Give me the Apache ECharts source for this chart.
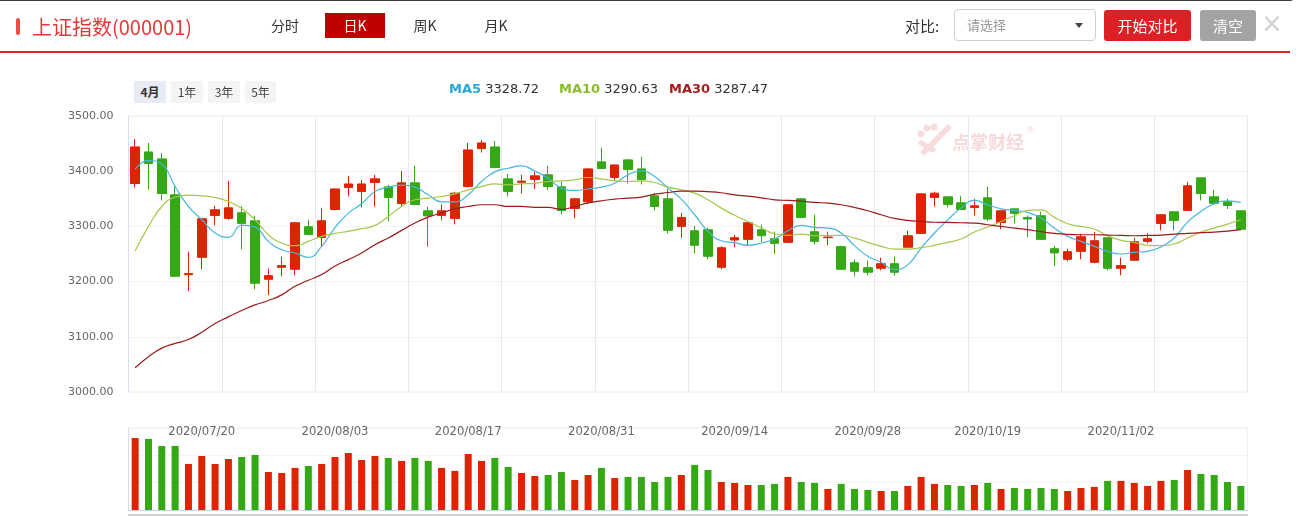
<!DOCTYPE html>
<html><head><meta charset="utf-8">
<script src="https://cdn.jsdelivr.net/npm/echarts@6/dist/echarts.min.js"></script>
<style>
html,body{margin:0;padding:0;background:#fff;width:1299px;height:516px;overflow:hidden;font-family:"Noto Sans CJK SC","DejaVu Sans",sans-serif;}
#chart{position:absolute;left:0;top:0;width:1299px;height:516px;}
.hd{position:absolute;white-space:nowrap;box-sizing:border-box;}
.tab{font-size:14px;color:#333;text-align:center;line-height:25px;top:13px;height:25px;}
.rb{top:81px;height:22px;line-height:22px;font-size:12px;color:#444;text-align:center;background:#f4f4f4;}
.lg{top:80px;font-family:"DejaVu Sans",sans-serif;font-size:13px;line-height:18px;color:#333;}
</style></head><body>
<div id="chart"></div>
<div class="hd" style="left:-2px;top:-6px;width:1298px;height:7px;border:1px solid #3a3a3a;border-radius:0 0 6px 0;"></div>
<div class="hd" style="left:16px;top:18px;width:4px;height:17px;background:#f04a4a;border-radius:2px;"></div>
<div class="hd" style="left:32px;top:13px;font-size:20px;line-height:28px;color:#e4393c;">上证指数(000001)</div>
<div class="hd tab" style="left:265px;width:40px;">分时</div>
<div class="hd tab" style="left:325px;width:60px;background:#c00000;color:#fff;">日K</div>
<div class="hd tab" style="left:405px;width:40px;">周K</div>
<div class="hd tab" style="left:476px;width:40px;">月K</div>
<div class="hd" style="left:0;top:51px;width:1290px;height:2px;background:#e0252b;"></div>
<div class="hd" style="left:905px;top:14px;font-size:15px;line-height:24px;color:#333;">对比:</div>
<div class="hd" style="left:954px;top:9px;width:142px;height:32px;border:1px solid #cfcfcf;border-radius:4px;"></div>
<div class="hd" style="left:967px;top:15px;font-size:13px;line-height:20px;color:#999;">请选择</div>
<div class="hd" style="left:1075px;top:23px;width:0;height:0;border-left:4px solid transparent;border-right:4px solid transparent;border-top:5px solid #444;"></div>
<div class="hd" style="left:1104px;top:10px;width:87px;height:31px;background:#dd1f26;border-radius:3px;color:#fff;font-size:15px;line-height:31px;text-align:center;">开始对比</div>
<div class="hd" style="left:1200px;top:10px;width:56px;height:31px;background:#a3a3a3;border-radius:3px;color:#fff;font-size:15px;line-height:31px;text-align:center;">清空</div>
<div class="hd" style="left:1261px;top:8px;font-size:26px;line-height:30px;color:#d0d0d0;font-family:'DejaVu Sans',sans-serif;">×</div>
<div class="hd rb" style="left:134px;width:32px;background:#e6ebf5;font-weight:bold;color:#333;">4月</div>
<div class="hd rb" style="left:171px;width:32px;">1年</div>
<div class="hd rb" style="left:208px;width:32px;">3年</div>
<div class="hd rb" style="left:245px;width:31px;">5年</div>
<div class="hd lg" style="left:449px;"><b style="color:#29a9d8;">MA5</b> 3328.72</div>
<div class="hd lg" style="left:559px;"><b style="color:#8cbb2c;">MA10</b> 3290.63</div>
<div class="hd lg" style="left:669px;"><b style="color:#a51c1c;">MA30</b> 3287.47</div>
<script>
const dates = [
'2020/07/13','2020/07/14','2020/07/15','2020/07/16','2020/07/17','2020/07/20','2020/07/21','2020/07/22','2020/07/23','2020/07/24',
'2020/07/27','2020/07/28','2020/07/29','2020/07/30','2020/07/31','2020/08/03','2020/08/04','2020/08/05','2020/08/06','2020/08/07',
'2020/08/10','2020/08/11','2020/08/12','2020/08/13','2020/08/14','2020/08/17','2020/08/18','2020/08/19','2020/08/20','2020/08/21',
'2020/08/24','2020/08/25','2020/08/26','2020/08/27','2020/08/28','2020/08/31','2020/09/01','2020/09/02','2020/09/03','2020/09/04',
'2020/09/07','2020/09/08','2020/09/09','2020/09/10','2020/09/11','2020/09/14','2020/09/15','2020/09/16','2020/09/17','2020/09/18',
'2020/09/21','2020/09/22','2020/09/23','2020/09/24','2020/09/25','2020/09/28','2020/09/29','2020/09/30','2020/10/09','2020/10/12',
'2020/10/13','2020/10/14','2020/10/15','2020/10/16','2020/10/19','2020/10/20','2020/10/21','2020/10/22','2020/10/23','2020/10/26',
'2020/10/27','2020/10/28','2020/10/29','2020/10/30','2020/11/02','2020/11/03','2020/11/04','2020/11/05','2020/11/06','2020/11/09',
'2020/11/10','2020/11/11','2020/11/12','2020/11/13'];
const tickLabels = ['2020/07/20','2020/08/03','2020/08/17','2020/08/31','2020/09/14','2020/09/28','2020/10/19','2020/11/02'];
const opens = [
3377.7,3434.9,3422.3,3357.2,3212.5,3244.0,3319.9,3314.5,3324.7,3310.2,
3204.2,3225.9,3222.3,3299.4,3280.1,3330.7,3370.3,3363.3,3379.5,3371.7,
3341.6,3378.9,3328.3,3319.9,3314.5,3372.3,3441.0,3444.0,3386.1,3380.0,
3384.8,3393.4,3371.7,3332.5,3344.6,3416.9,3388.6,3420.5,3404.2,3355.4,
3350.0,3300.0,3292.2,3294.0,3225.9,3275.3,3276.5,3294.0,3277.7,3271.1,
3350.0,3290.4,3279.5,3263.3,3234.2,3225.3,3224.1,3232.5,3262.3,3287.3,
3352.4,3353.6,3342.8,3334.3,3351.8,3307.2,3331.9,3316.3,3319.3,3259.6,
3240.4,3254.8,3234.9,3279.5,3224.1,3238.6,3272.9,3305.4,3326.5,3328.9,
3388.0,3353.6,3344.6,3328.3];
const closes = [
3444.0,3413.9,3359.6,3209.6,3214.5,3313.9,3330.1,3333.7,3305.4,3197.0,
3210.8,3229.0,3306.6,3285.5,3310.2,3367.9,3376.9,3376.9,3386.1,3352.4,
3378.9,3339.8,3318.9,3328.3,3360.2,3438.6,3451.2,3406.6,3363.3,3382.0,
3391.6,3372.3,3328.9,3350.0,3404.2,3404.8,3411.4,3403.0,3384.8,3336.1,
3292.8,3316.3,3265.7,3245.8,3261.4,3279.5,3306.6,3283.1,3269.3,3339.2,
3316.3,3272.9,3280.7,3222.3,3218.7,3216.9,3232.5,3216.9,3283.1,3359.0,
3360.2,3339.8,3330.7,3337.3,3313.3,3328.3,3323.5,3313.3,3276.5,3252.0,
3254.2,3281.3,3274.1,3224.1,3229.0,3272.3,3277.7,3321.1,3310.8,3373.5,
3359.6,3341.6,3337.9,3294.8];
const lows = [
3370.5,3366.9,3347.0,3209.6,3182.5,3222.3,3301.8,3312.0,3258.4,3186.1,
3175.3,3209.6,3211.4,3283.6,3263.0,3329.0,3354.2,3334.3,3336.1,3309.0,
3336.1,3338.0,3263.0,3310.8,3303.6,3370.5,3433.7,3406.0,3354.2,3359.6,
3368.0,3365.9,3321.5,3314.5,3340.4,3404.0,3382.5,3377.7,3375.9,3328.9,
3287.3,3279.0,3251.2,3240.4,3222.3,3262.3,3265.7,3271.5,3250.2,3269.3,
3314.5,3267.5,3265.7,3222.0,3209.6,3211.4,3220.5,3210.8,3262.0,3287.0,
3336.1,3334.3,3330.0,3319.9,3309.9,3294.6,3305.4,3280.7,3276.0,3228.2,
3236.8,3240.4,3233.1,3220.5,3211.4,3238.6,3269.3,3292.8,3292.8,3328.9,
3347.0,3339.8,3331.6,3293.6];
const highs = [
3458.4,3451.2,3433.1,3372.9,3254.2,3314.5,3337.3,3382.5,3336.7,3319.3,
3223.5,3245.2,3307.5,3312.0,3333.7,3368.5,3391.6,3384.3,3393.4,3375.3,
3400.6,3409.6,3335.5,3339.8,3362.7,3451.2,3456.6,3454.8,3395.2,3393.4,
3398.8,3409.6,3380.7,3351.8,3406.0,3442.2,3412.0,3422.3,3425.9,3360.2,
3368.0,3324.5,3301.2,3297.6,3264.1,3284.8,3308.4,3303.0,3290.4,3340.0,
3351.8,3321.1,3290.4,3265.1,3239.8,3238.0,3243.4,3245.8,3292.2,3359.5,
3362.7,3354.0,3355.4,3350.0,3371.7,3328.5,3332.0,3319.9,3326.5,3265.1,
3259.6,3286.7,3290.4,3280.0,3243.4,3279.5,3287.3,3321.5,3326.8,3380.7,
3388.3,3366.3,3350.0,3328.5];
const ma5 = [
3403.6,3419.3,3412.7,3372.3,3336.1,3312.0,3288.0,3280.0,3302.4,3298.8,
3272.9,3257.8,3251.8,3244.0,3263.9,3298.0,3324.1,3341.0,3363.3,3371.1,
3374.7,3371.1,3357.2,3344.6,3344.6,3357.2,3381.3,3398.8,3405.4,3409.6,
3400.3,3387.3,3369.3,3365.1,3368.0,3371.1,3378.3,3393.4,3400.6,3390.4,
3369.3,3349.4,3321.1,3291.0,3274.1,3270.5,3265.7,3269.9,3277.1,3292.2,
3301.8,3298.2,3297.0,3288.0,3265.1,3245.8,3234.9,3221.7,3230.7,3260.8,
3288.0,3312.0,3333.1,3347.0,3339.2,3331.9,3328.9,3325.3,3315.1,3297.0,
3281.9,3272.9,3263.9,3254.8,3250.0,3253.0,3254.8,3262.7,3278.9,3307.8,
3327.1,3341.0,3346.4,3343.4];
const ma10 = [
3256.0,3300.0,3336.1,3353.0,3356.6,3355.4,3352.4,3345.2,3332.5,3312.0,
3284.9,3269.9,3265.0,3272.9,3281.9,3287.5,3291.0,3295.8,3301.8,3318.1,
3336.1,3348.2,3351.2,3354.2,3359.0,3366.3,3372.3,3377.1,3375.3,3377.1,
3378.0,3381.3,3382.5,3384.3,3388.6,3386.1,3382.5,3381.3,3382.5,3379.5,
3371.1,3366.3,3360.2,3348.2,3333.1,3320.2,3309.0,3297.0,3286.7,3283.7,
3286.1,3283.1,3283.7,3283.7,3278.9,3271.1,3263.9,3259.0,3259.0,3261.4,
3265.7,3271.1,3277.1,3289.8,3298.8,3309.0,3319.3,3328.9,3330.1,3316.3,
3304.8,3300.0,3295.2,3283.1,3274.7,3271.1,3265.7,3265.1,3268.1,3278.9,
3289.8,3297.0,3304.2,3312.0];
const ma30 = [
3044.0,3063.9,3079.5,3088.0,3095.0,3108.4,3124.1,3136.1,3147.6,3157.8,
3165.7,3175.9,3191.6,3202.4,3212.7,3228.3,3239.8,3251.8,3266.9,3279.0,
3292.8,3306.0,3316.9,3324.1,3332.0,3336.1,3339.2,3339.2,3336.1,3336.1,
3334.6,3334.3,3331.0,3336.0,3342.5,3346.4,3349.4,3351.2,3353.0,3358.4,
3361.4,3364.0,3364.0,3363.0,3361.0,3357.2,3354.8,3351.8,3348.2,3347.0,
3345.8,3343.4,3342.2,3339.2,3334.3,3328.3,3321.1,3314.5,3310.8,3309.0,
3307.5,3307.2,3306.6,3306.0,3303.0,3300.0,3297.0,3294.0,3290.4,3287.3,
3285.5,3284.9,3284.9,3284.3,3283.7,3283.1,3283.7,3284.3,3286.1,3287.3,
3288.6,3289.8,3291.6,3294.0];
const volumes = [
527,520,469,469,337,395,337,373,388,403,
278,271,308,322,337,388,417,366,395,381,
359,381,359,308,286,410,359,381,315,271,
249,256,278,220,256,308,234,242,242,205,
242,256,330,293,205,198,183,183,191,242,
205,198,154,191,154,147,139,139,176,242,
191,183,176,183,198,154,161,154,161,154,
139,161,169,213,213,198,176,213,220,293,
264,256,205,176];

const UP = '#dd2400', DOWN = '#34a915';
const kData = dates.map((d, i) => [opens[i], closes[i], lows[i], highs[i]]);
const chart = echarts.init(document.getElementById('chart'), null, {renderer: 'canvas'});
const lineCommon = {type: 'line', smooth: true, symbol: 'none', xAxisIndex: 0, yAxisIndex: 0};
chart.setOption({
  animation: false,
  textStyle: {fontFamily: 'DejaVu Sans, Noto Sans CJK SC, sans-serif'},
  grid: [
    {left: 128.5, top: 116, width: 1119, height: 276, show: true, borderColor: '#eef1f5', borderWidth: 1},
    {left: 128.5, top: 428, width: 1119, height: 82, show: true, borderColor: '#eef1f5', borderWidth: 1}
  ],
  xAxis: [
    {type: 'category', gridIndex: 0, data: dates, boundaryGap: true,
     axisLine: {show: false}, axisTick: {show: false},
     axisLabel: {interval: (i, v) => tickLabels.indexOf(v) >= 0, margin: 34, color: '#666', fontSize: 11.6, verticalAlign: 'top'},
     splitLine: {show: true, interval: (i) => i % 7 === 0, lineStyle: {color: '#e5eaf1', width: 1}}},
    {type: 'category', gridIndex: 1, data: dates, boundaryGap: true,
     axisLine: {show: true, lineStyle: {color: '#c8d4e9'}}, axisTick: {show: false},
     axisLabel: {show: false}, splitLine: {show: false}}
  ],
  yAxis: [
    {type: 'value', gridIndex: 0, min: 3000, max: 3500, interval: 100, scale: true,
     axisLine: {show: true, lineStyle: {color: '#d6dfeb'}}, axisTick: {show: false},
     axisLabel: {formatter: v => v.toFixed(2), color: '#666', fontSize: 11, margin: 15},
     splitLine: {show: true, lineStyle: {color: '#f2f3f5'}}},
    {type: 'value', gridIndex: 1, min: 0, max: 600, interval: 200,
     axisLine: {show: true, lineStyle: {color: '#d6dfeb'}}, axisTick: {show: false},
     axisLabel: {show: false}, splitLine: {show: true, lineStyle: {color: '#f2f3f5'}}}
  ],
  series: [
    {type: 'candlestick', xAxisIndex: 0, yAxisIndex: 0, data: kData, barWidth: 9,
     itemStyle: {color: UP, color0: DOWN, borderColor: UP, borderColor0: DOWN, borderWidth: 1}},
    Object.assign({}, lineCommon, {name: 'MA5', data: ma5, lineStyle: {color: '#45b7dd', width: 1.2}}),
    Object.assign({}, lineCommon, {name: 'MA10', data: ma10, lineStyle: {color: '#a5c84a', width: 1.2}}),
    Object.assign({}, lineCommon, {name: 'MA30', data: ma30, lineStyle: {color: '#9e1a1a', width: 1.2}}),
    {type: 'bar', xAxisIndex: 1, yAxisIndex: 1, data: volumes, barWidth: 7,
     itemStyle: {color: p => closes[p.dataIndex] >= opens[p.dataIndex] ? UP : DOWN}}
  ],
  graphic: [
    {type: 'circle', shape: {cx: 921, cy: 134, r: 3.5}, style: {fill: '#f6dcdc'}},
    {type: 'circle', shape: {cx: 927, cy: 128, r: 3.5}, style: {fill: '#f6dcdc'}},
    {type: 'circle', shape: {cx: 934, cy: 127, r: 3.5}, style: {fill: '#f6dcdc'}},
    {type: 'line', shape: {x1: 924, y1: 152, x2: 948, y2: 128}, style: {stroke: '#f6dcdc', lineWidth: 6, lineCap: 'round'}},
    {type: 'line', shape: {x1: 921, y1: 143, x2: 933, y2: 150}, style: {stroke: '#f6dcdc', lineWidth: 5, lineCap: 'round'}},
    {type: 'text', left: 952, top: 133, style: {text: '点掌财经', fill: '#f6dada', font: 'bold 18px "Noto Sans CJK SC"'}},
    {type: 'text', left: 1026, top: 126, style: {text: '®', fill: '#f6dada', font: '9px "DejaVu Sans"'}},
    {type: 'line', shape: {x1: 128, y1: 515, x2: 1248, y2: 515}, style: {stroke: '#d4d4d4', lineWidth: 2}}
  ]
});
</script>
</body></html>
